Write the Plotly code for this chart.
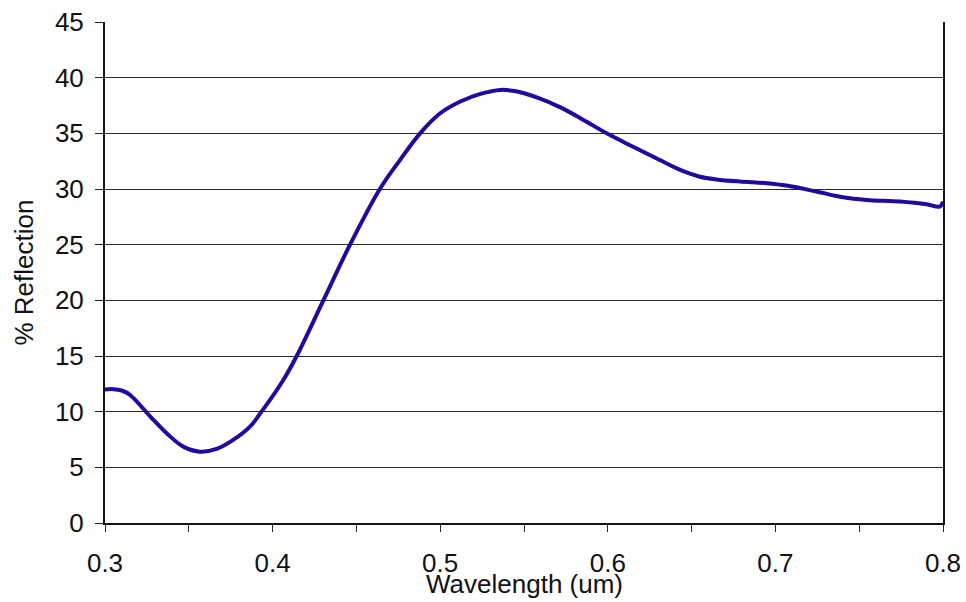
import plotly.graph_objects as go

wavelength = [0.300, 0.305, 0.310, 0.315, 0.3268, 0.3368, 0.3467, 0.3567, 0.3666, 0.3765,
              0.3865, 0.3934, 0.4064, 0.4144, 0.4303, 0.4462, 0.464, 0.476, 0.488, 0.500,
              0.512, 0.524, 0.536, 0.546, 0.558, 0.5714, 0.585, 0.5993, 0.615, 0.631,
              0.645, 0.655, 0.6648, 0.6788, 0.6947, 0.7066, 0.7245, 0.7404, 0.7543, 0.7742,
              0.7901, 0.798, 0.800]
reflection = [12.0, 12.02, 11.9, 11.5, 9.6, 8.06, 6.86, 6.41, 6.65, 7.46,
              8.65, 10.0, 12.85, 15.0, 20.0, 25.0, 30.0, 32.6, 35.0, 36.8,
              37.86, 38.55, 38.9, 38.75, 38.2, 37.35, 36.25, 35.0, 33.8, 32.6,
              31.6, 31.1, 30.86, 30.67, 30.52, 30.31, 29.77, 29.26, 29.02, 28.87,
              28.63, 28.42, 28.87]

y_ticks = [0, 5, 10, 15, 20, 25, 30, 35, 40, 45]
x_ticks = [0.3, 0.4, 0.5, 0.6, 0.7, 0.8]
x_labels = ["0.3", "0.4", "0.5", "0.6", "0.7", "0.8"]

FONT = "Liberation Sans, Arial, sans-serif"

fig = go.Figure()
fig.add_trace(go.Scatter(
    x=wavelength, y=reflection, mode="lines",
    line=dict(color="#1f0aa0", width=4, shape="spline", smoothing=1.0),
    showlegend=False, hoverinfo="skip"))

fig.update_layout(
    width=966, height=602,
    margin=dict(l=105, r=23, t=22, b=79),
    paper_bgcolor="white", plot_bgcolor="white",
    font=dict(family=FONT, size=26, color="#111"),
    xaxis=dict(range=[0.3, 0.8], tickvals=x_ticks, ticktext=x_labels, automargin=False,
               ticks="outside", ticklen=7, tickwidth=1, tickcolor="#222",
               minor=dict(dtick=0.05, tick0=0.3, ticks="outside", ticklen=7, tickwidth=1,
                          tickcolor="#222", showgrid=False),
               showgrid=False, zeroline=False,
               showline=True, linecolor="#111", linewidth=2,
               ticklabelstandoff=9, tickfont=dict(size=26)),
    yaxis=dict(range=[0, 45], tickvals=y_ticks, automargin=False,
               ticks="outside", ticklen=8, tickwidth=1, tickcolor="#222",
               showgrid=True, gridcolor="#2a2a2a", gridwidth=1, zeroline=False,
               showline=True, linecolor="#111", linewidth=2, mirror=True,
               ticklabelstandoff=6, tickfont=dict(size=26)),
    annotations=[
        dict(text="Wavelength (um)", xref="paper", yref="paper", x=0.5, y=0,
             yshift=-61, showarrow=False, xanchor="center", yanchor="middle",
             font=dict(family=FONT, size=26, color="#111")),
        dict(text="% Reflection", xref="paper", yref="paper", x=0, y=0.5,
             xshift=-82, textangle=-90, showarrow=False, xanchor="center", yanchor="middle",
             font=dict(family=FONT, size=26, color="#111")),
    ],
)

fig.write_html("out.html")
